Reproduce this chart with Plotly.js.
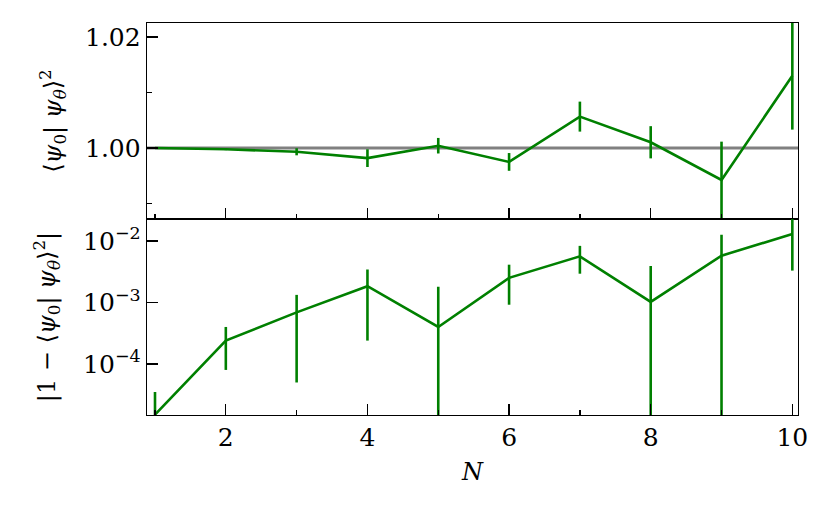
<!DOCTYPE html>
<html>
<head>
<meta charset="utf-8">
<script src="https://cdn.plot.ly/plotly-3.0.1.min.js"></script>
<style>
  html, body { margin: 0; padding: 0; background: #fff; }
  #chart { width: 829px; height: 519px; }
</style>
</head>
<body>
<div id="chart"></div>
<script>
// Data
const N = [1, 2, 3, 4, 5, 6, 7, 8, 9, 10];
// top panel: overlap <psi0|psi_theta>^2
const overlap = [0.999985, 0.99976, 0.99931, 0.99816, 1.00040, 0.99748, 1.00564, 1.00102, 0.99423, 1.01300];
const overlapErr = [0.00002, 0.00016, 0.00064, 0.0016, 0.0014, 0.0016, 0.0027, 0.0029, 0.0069, 0.0097];
// bottom panel: |1 - <psi0|psi_theta>^2|
const deviation = [1.5e-5, 2.4e-4, 6.9e-4, 1.84e-3, 4.0e-4, 2.52e-3, 5.64e-3, 1.02e-3, 5.77e-3, 1.30e-2];
const deviationErr = [0.00002, 0.00016, 0.00064, 0.0016, 0.0014, 0.0016, 0.0027, 0.0029, 0.0069, 0.0097];
// reference line
const refValue = 1.0;
// tick labels
const xTickVals = [2, 4, 6, 8, 10];
const xTickText = ["2", "4", "6", "8", "10"];
const topTickVals = [1.00, 1.02];
const topTickText = ["1.00", "1.02"];
const topMinorVals = [0.99, 1.01];
const logTickVals = [1e-4, 1e-3, 1e-2];
const logTickText = ["10<sup>−4</sup>", "10<sup>−3</sup>", "10<sup>−2</sup>"];

const GREEN = "#008000";
const FONT = "DejaVu Serif";

const traces = [
  {
    x: N, y: overlap, xaxis: "x", yaxis: "y",
    type: "scatter", mode: "lines",
    line: { color: GREEN, width: 2.6 },
    error_y: { type: "data", array: overlapErr, visible: true, color: GREEN, thickness: 2.6, width: 0 },
    hoverinfo: "x+y", showlegend: false
  },
  {
    x: N, y: deviation, xaxis: "x2", yaxis: "y2",
    type: "scatter", mode: "lines",
    line: { color: GREEN, width: 2.6 },
    error_y: { type: "data", array: deviationErr, visible: true, color: GREEN, thickness: 2.6, width: 0 },
    hoverinfo: "x+y", showlegend: false
  }
];

const axisCommon = {
  showline: true, linecolor: "#000", linewidth: 1.3, mirror: true,
  ticks: "inside", ticklen: 11, tickwidth: 1.3, tickcolor: "#000",
  showgrid: false, zeroline: false,
  tickfont: { family: FONT, size: 25, color: "#000" }
};

const layout = {
  width: 829, height: 519,
  paper_bgcolor: "#fff", plot_bgcolor: "#fff",
  margin: { l: 147, r: 31, t: 23, b: 104 },
  font: { family: FONT, color: "#000", size: 25 },
  showlegend: false,
  xaxis: Object.assign({}, axisCommon, {
    domain: [0, 1], anchor: "y", matches: "x2",
    range: [0.887, 10.08],
    tickmode: "array", tickvals: xTickVals, ticktext: xTickText,
    showticklabels: false,
    minor: { ticks: "inside", ticklen: 5, tickwidth: 1.3, tickcolor: "#000", dtick: 1, tick0: 0 }
  }),
  yaxis: Object.assign({}, axisCommon, {
    domain: [0.5, 1], anchor: "x",
    range: [0.9872, 1.0225],
    tickmode: "array", tickvals: topTickVals, ticktext: topTickText,
    minor: { ticks: "inside", ticklen: 5, tickwidth: 1.3, tickcolor: "#000", tickvals: topMinorVals },
    title: { text: "⟨<i>ψ</i><sub>0</sub>| <i>ψ</i><sub><i>θ</i></sub>⟩<sup>2</sup>", font: { family: FONT, size: 24, color: "#000" }, standoff: 16 }
  }),
  xaxis2: Object.assign({}, axisCommon, {
    domain: [0, 1], anchor: "y2",
    range: [0.887, 10.08],
    tickmode: "array", tickvals: xTickVals, ticktext: xTickText,
    minor: { ticks: "inside", ticklen: 5, tickwidth: 1.3, tickcolor: "#000", dtick: 1, tick0: 0 },
    title: { text: "<i>N</i>", font: { family: FONT, size: 24, color: "#000" }, standoff: 12 }
  }),
  yaxis2: Object.assign({}, axisCommon, {
    domain: [0, 0.5], anchor: "x2",
    type: "log",
    range: [-4.83, -1.642],
    tickmode: "array", tickvals: logTickVals, ticktext: logTickText,
    title: { text: "|1 − ⟨<i>ψ</i><sub>0</sub>| <i>ψ</i><sub><i>θ</i></sub>⟩<sup>2</sup>|", font: { family: FONT, size: 24, color: "#000" }, standoff: 20 }
  }),
  shapes: [
    {
      type: "line", xref: "x domain", yref: "y",
      x0: 0, x1: 1, y0: refValue, y1: refValue,
      line: { color: "#808080", width: 3 }, layer: "below"
    }
  ]
};

Plotly.newPlot("chart", traces, layout, { staticPlot: true, displayModeBar: false });
</script>
</body>
</html>
